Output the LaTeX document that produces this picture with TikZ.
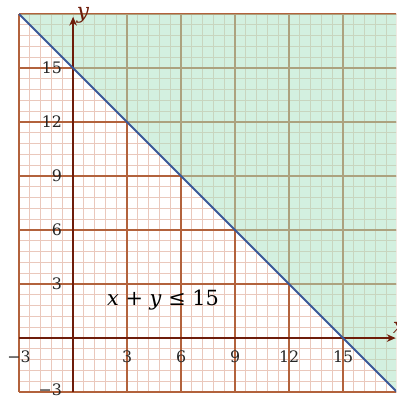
\documentclass[tikz,border=0pt]{standalone}
\usepackage{fontspec}
\setmainfont{DejaVu Serif}
\usetikzlibrary{arrows.meta}
\definecolor{minorc}{RGB}{234,200,188}
\definecolor{majorc}{RGB}{178,98,60}
\definecolor{axisc}{RGB}{110,28,10}
\definecolor{fillc}{RGB}{168,226,194}
\definecolor{linec}{RGB}{58,88,152}
\tikzset{
  minorline/.style={draw=minorc,line width=0.8pt},
  majorline/.style={draw=majorc,line width=1.1pt},
  axisline/.style={draw=axisc,line width=2.2pt,-{Stealth[length=7pt,width=6pt]}},
  boundary/.style={draw=linec,line width=1.5pt},
  ticklab/.style={font=\fontsize{12.5}{15}\selectfont,inner sep=0pt,text=black!85},
  biglab/.style={font=\fontsize{16.5}{20}\selectfont,inner sep=0pt},
  axislab/.style={font=\fontsize{17}{20}\selectfont\itshape,inner sep=0pt,text=axisc}
}
\begin{document}
\begin{tikzpicture}[x=0.5cm,y=0.5cm]
\useasboundingbox (-4.06,-3.33) rectangle (17.94,18.78);
\clip (-4.06,-3.33) rectangle (17.94,18.78);
% minor grid
\foreach \i in {0,...,35}{
  \draw[minorline] ({-3+0.6*\i},-3) -- ({-3+0.6*\i},18);
  \draw[minorline] (-3,{-3+0.6*\i}) -- (18,{-3+0.6*\i});
}
% major grid
\foreach \v in {-3,3,6,9,12,15,18}{
  \draw[majorline] (\v,-3) -- (\v,18);
  \draw[majorline] (-3,\v) -- (18,\v);
}
% shaded region
\fill[fillc,opacity=0.5] (-3,18) -- (18,-3) -- (18,18) -- cycle;
% axes
\coordinate (xs) at (-3,0);
\coordinate (xe) at (17.92,0);
\coordinate (ys) at (0,-3);
\coordinate (ye) at (0,17.85);
\draw[axisline] (xs) -- (xe);
\draw[axisline] (ys) -- (ye);
% boundary line
\coordinate (la) at (-3,18);
\coordinate (lb) at (18,-3);
\draw[boundary] (la) -- (lb);
% labels
\node[axislab] (ylab) at (0.55,17.95) {y};
\node[axislab] (xlab) at (18.1,0.55) {x};
\foreach \v/\t in {-3/−3,3/3,6/6,9/9,12/12,15/15}{
  \node[ticklab,anchor=north] (xt\v) at (\v,-0.67) {\t};
}
\foreach \v/\t in {3/3,6/6,9/9,12/12,15/15}{
  \node[ticklab,anchor=east] (yt\v) at (-0.6,\v) {\t};
}
\node[ticklab,anchor=east] (ytm3) at (-0.6,-2.85) {−3};
\node[biglab] (ineq) at (5,2.1) {\textit{x} + \textit{y} ≤ 15};
\end{tikzpicture}
\end{document}
